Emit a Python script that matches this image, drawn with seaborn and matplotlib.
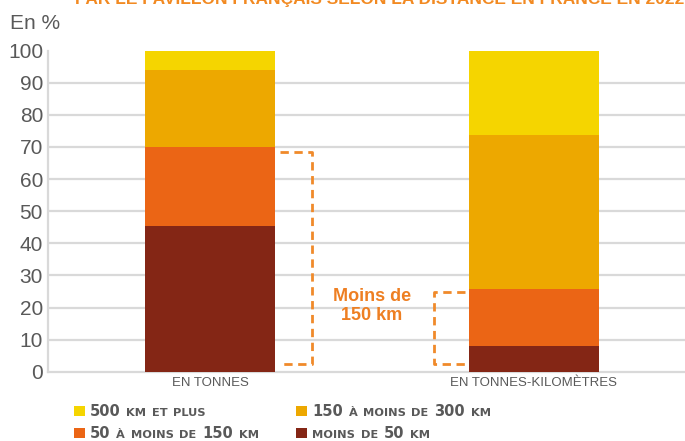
import matplotlib
matplotlib.use('Agg')
import matplotlib.pyplot as plt
import seaborn as sns
import numpy as np
import pandas as pd
from matplotlib.patches import Rectangle

# ---------------- data ----------------
categories = ["EN TONNES", "EN TONNES-KILOMÈTRES"]
moins_50 = [45.5, 8.1]
de_50_a_150 = [24.5, 17.6]
de_150_a_300 = [24.0, 48.0]
plus_500 = [6.0, 26.3]
yticks = list(range(0, 101, 10))
title = "PAR LE PAVILLON FRANÇAIS SELON LA DISTANCE EN FRANCE EN 2022"
annotation = "Moins de\n150 km"

colors = ["#842615", "#EB6515", "#EDA800", "#F5D500"]   # moins 50, 50-150, 150-300, 500+
grey = "#595959"
grid_grey = "#d9d9d9"
orange_txt = "#EE7F22"

sns.set_theme(style="white")
plt.rcParams['font.family'] = ['Liberation Sans', 'DejaVu Sans']

W, H = 685, 441
fig = plt.figure(figsize=(W / 100, H / 100), dpi=100)
ax = fig.add_axes([48 / W, 69.3 / H, 648 / W, 321 / H])

layers = np.array([moins_50, de_50_a_150, de_150_a_300, plus_500])
cum = np.cumsum(layers, axis=0)
bar_w = 0.4
for i in reversed(range(len(layers))):
    df = pd.DataFrame({"cat": categories, "val": cum[i]})
    sns.barplot(data=df, x="cat", y="val", color=colors[i], width=bar_w,
                saturation=1, ax=ax, zorder=3, linewidth=0, edgecolor="none")

ax.set_xlim(-0.5, 1.5)
ax.set_ylim(0, 100)
ax.set_yticks(yticks)
ax.set_xlabel("")
ax.set_ylabel("")
ax.yaxis.grid(True, color=grid_grey, lw=1.6, zorder=0)
ax.set_axisbelow(True)
gl = ax.get_ygridlines()
gl[-1].set_visible(False)
gl[0].set_visible(False)
for s in ["top", "right"]:
    ax.spines[s].set_visible(False)
for s in ["left", "bottom"]:
    ax.spines[s].set_color(grid_grey)
    ax.spines[s].set_linewidth(1.6)
    ax.spines[s].set_zorder(1)

ax.tick_params(axis="y", length=0, pad=3.6, labelsize=15, labelcolor=grey)
ax.tick_params(axis="x", which="major", length=0, pad=4, labelsize=9.5, labelcolor=grey)
ax.set_xticks([-0.5, 0.5, 1.5], minor=True)
ax.tick_params(axis="x", which="minor", length=4, width=1.5, color=grid_grey, direction="out")

# dashed brackets
dash_col = "#F08A2A"
lx0, lx1 = bar_w / 2 + 0.016, bar_w / 2 + 0.114
ax.plot([lx0, lx1, lx1, lx0], [68.5, 68.5, 2.4, 2.4], color=dash_col, lw=2,
        ls=(0, (3, 2)), zorder=4, clip_on=False)
rx1, rx0 = 1 - bar_w / 2 - 0.013, 1 - bar_w / 2 - 0.109
ax.plot([rx1, rx0, rx0, rx1], [24.7, 24.7, 2.4, 2.4], color=dash_col, lw=2,
        ls=(0, (3, 2)), zorder=4, clip_on=False)
ax.text(0.5, 20.5, annotation, ha="center", va="center", fontsize=13,
        fontweight="bold", color=orange_txt, linespacing=1.2)

# titles
fig.text(10 / W, 1 - 29.3 / H, "En %", fontsize=15, color=grey, va="baseline")
fig.text(75 / W, 1 - 4.0 / H, title, fontsize=12.5, fontweight="bold",
         color="#F28A22", va="baseline")

# legend with small caps
renderer = fig.canvas.get_renderer()
BIG, SMALL = 10.5, 8.2


def rich(x_px, base_from_top, pieces):
    x = x_px
    for j, (txt, big) in enumerate(pieces):
        fs = BIG if big else SMALL
        t = fig.text(x / W, 1 - base_from_top / H, txt, fontsize=fs, fontweight="bold",
                     family="DejaVu Sans", color=grey, va="baseline", ha="left")
        bb = t.get_window_extent(renderer)
        x += bb.width + SMALL * 0.5 * 100 / 72


legend_items = [
    (74, 415.5, colors[3], [("500", True), ("KM", False), ("ET", False), ("PLUS", False)]),
    (296, 415.5, colors[2], [("150", True), ("À", False), ("MOINS", False), ("DE", False), ("300", True), ("KM", False)]),
    (74, 437.5, colors[1], [("50", True), ("À", False), ("MOINS", False), ("DE", False), ("150", True), ("KM", False)]),
    (296, 437.5, colors[0], [("MOINS", False), ("DE", False), ("50", True), ("KM", False)]),
]
for x_px, base, col, pieces in legend_items:
    fig.patches.append(Rectangle((x_px / W, (H - base) / H), 11 / W, 10 / H,
                                 transform=fig.transFigure, facecolor=col,
                                 edgecolor="none"))
    rich(x_px + 16, base, pieces)

fig.savefig("out.png", dpi=100)
